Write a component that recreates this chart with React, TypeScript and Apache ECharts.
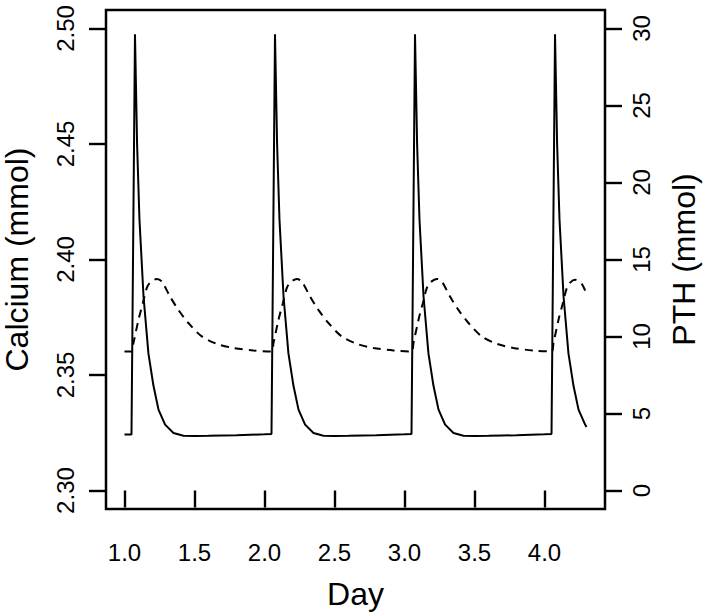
import React, { useEffect, useRef } from "react";
import * as echarts from "echarts";

// PTH (solid line, right axis)
const pthDays = [
  1.0, 1.05, 1.075, 1.09, 1.107, 1.136, 1.171, 1.207, 1.243, 1.29, 1.35, 1.421, 1.5, 1.6, 1.7, 1.8, 1.9, 2.0,
  2.05, 2.075, 2.09, 2.107, 2.136, 2.171, 2.207, 2.243, 2.29, 2.35, 2.421, 2.5, 2.6, 2.7, 2.8, 2.9, 3.0,
  3.05, 3.075, 3.09, 3.107, 3.136, 3.171, 3.207, 3.243, 3.29, 3.35, 3.421, 3.5, 3.6, 3.7, 3.8, 3.9, 4.0,
  4.05, 4.075, 4.09, 4.107, 4.136, 4.171, 4.207, 4.243, 4.29, 4.3,
];
const pthValues = [
  3.63, 3.63, 29.63, 22.5, 17.6, 12.6, 8.9, 6.8, 5.25, 4.28, 3.74, 3.56, 3.54, 3.55, 3.57, 3.59, 3.62, 3.65,
  3.67, 29.63, 22.5, 17.6, 12.6, 8.9, 6.8, 5.25, 4.28, 3.74, 3.56, 3.54, 3.55, 3.57, 3.59, 3.62, 3.65,
  3.67, 29.63, 22.5, 17.6, 12.6, 8.9, 6.8, 5.25, 4.28, 3.74, 3.56, 3.54, 3.55, 3.57, 3.59, 3.62, 3.65,
  3.67, 29.63, 22.5, 17.6, 12.6, 8.9, 6.8, 5.25, 4.28, 4.12,
];

// Calcium (dashed line, left axis)
const caDays = [
  1.0, 1.05, 1.064, 1.1, 1.131, 1.159, 1.183, 1.231, 1.266, 1.325, 1.385, 1.457, 1.552, 1.659, 1.778, 1.921,
  2.05, 2.064, 2.1, 2.131, 2.159, 2.183, 2.231, 2.266, 2.325, 2.385, 2.457, 2.552, 2.659, 2.778, 2.921,
  3.05, 3.064, 3.1, 3.131, 3.159, 3.183, 3.231, 3.266, 3.325, 3.385, 3.457, 3.552, 3.659, 3.778, 3.921,
  4.05, 4.064, 4.1, 4.131, 4.159, 4.183, 4.219, 4.266, 4.3,
];
const caValues = [
  2.3602, 2.3602, 2.3638, 2.3739, 2.3811, 2.3876, 2.39, 2.3916, 2.3905, 2.384, 2.3782, 2.3725, 2.3667, 2.3635, 2.3617, 2.3606,
  2.3602, 2.3638, 2.3739, 2.3811, 2.3876, 2.39, 2.3916, 2.3905, 2.384, 2.3782, 2.3725, 2.3667, 2.3635, 2.3617, 2.3606,
  2.3602, 2.3638, 2.3739, 2.3811, 2.3876, 2.39, 2.3916, 2.3905, 2.384, 2.3782, 2.3725, 2.3667, 2.3635, 2.3617, 2.3606,
  2.3602, 2.3638, 2.3739, 2.3811, 2.3876, 2.39, 2.3912, 2.3895, 2.385,
];

const dayTicks = [1.0, 1.5, 2.0, 2.5, 3.0, 3.5, 4.0];
const caTicks = [2.3, 2.35, 2.4, 2.45, 2.5];
const pthTicks = [0, 5, 10, 15, 20, 25, 30];

const FONT = '"Liberation Sans", Arial, Helvetica, sans-serif';

export default function App() {
  const ref = useRef<HTMLDivElement>(null);
  useEffect(() => {
    if (!ref.current) return;
    const chart = echarts.init(ref.current, null, { renderer: "svg" });
    const tick = { show: true, length: 17, lineStyle: { color: "#000", width: 2.4 } };
    const lbl = { color: "#000", fontSize: 24, fontFamily: FONT };
    const name = { color: "#000", fontSize: 32, fontFamily: FONT };
    chart.setOption({
      animation: false,
      backgroundColor: "#fff",
      grid: {
        left: 106,
        top: 10,
        width: 499,
        height: 499,
        show: true,
        borderColor: "#000",
        borderWidth: 2.5,
        backgroundColor: "transparent",
        containLabel: false,
        outerBoundsMode: "none",
      },
      xAxis: {
        type: "value",
        min: 0.868,
        max: 4.432,
        name: "Day",
        nameLocation: "middle",
        nameGap: 69,
        nameTextStyle: name,
        axisLine: { show: false },
        splitLine: { show: false },
        axisTick: { ...tick, customValues: dayTicks },
        axisLabel: {
          ...lbl,
          margin: 31,
          customValues: dayTicks,
          formatter: (v: number) => v.toFixed(1),
        },
      },
      yAxis: [
        {
          type: "value",
          position: "left",
          min: 2.292,
          max: 2.508,
          name: "Calcium (mmol)",
          nameLocation: "middle",
          nameGap: 73,
          nameTextStyle: name,
          axisLine: { show: false },
          splitLine: { show: false },
          axisTick: { ...tick, customValues: caTicks },
          axisLabel: {
            ...lbl,
            rotate: 90,
            margin: 29,
            customValues: caTicks,
            formatter: (v: number) => v.toFixed(2),
          },
        },
        {
          type: "value",
          position: "right",
          min: -1.2,
          max: 31.2,
          name: "PTH (mmol)",
          nameLocation: "middle",
          nameGap: 63,
          nameTextStyle: name,
          axisLine: { show: false },
          splitLine: { show: false },
          axisTick: { ...tick, customValues: pthTicks },
          axisLabel: {
            ...lbl,
            rotate: 90,
            margin: 24,
            customValues: pthTicks,
            formatter: (v: number) => String(Math.round(v)),
          },
        },
      ],
      series: [
        {
          type: "line",
          yAxisIndex: 1,
          showSymbol: false,
          symbol: "none",
          lineStyle: { color: "#000", width: 2 },
          data: pthDays.map((d, i) => [d, pthValues[i]]),
        },
        {
          type: "line",
          yAxisIndex: 0,
          showSymbol: false,
          symbol: "none",
          smooth: 0.3,
          lineStyle: { color: "#000", width: 2, type: [8, 6] },
          data: caDays.map((d, i) => [d, caValues[i]]),
        },
      ],
    });
    return () => chart.dispose();
  }, []);
  return (
    <div
      ref={ref}
      style={{ position: "fixed", left: 0, top: 0, width: 709, height: 616, background: "#fff" }}
    />
  );
}
